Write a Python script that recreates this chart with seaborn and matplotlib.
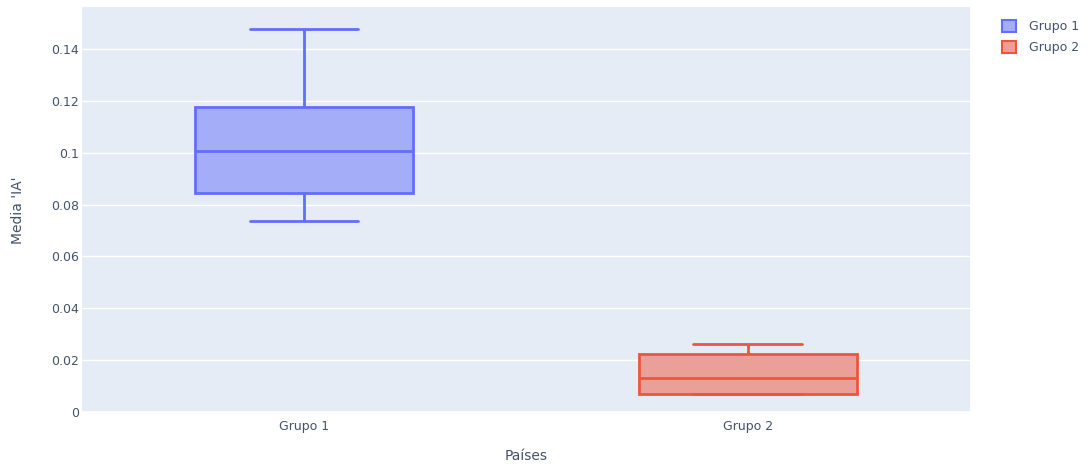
import matplotlib
matplotlib.use("Agg")
import matplotlib.pyplot as plt
import seaborn as sns
import pandas as pd
from matplotlib.patches import Patch

# medias de 'IA' por país en cada grupo
grupo_1 = [0.0738, 0.0846, 0.1008, 0.1177, 0.1477]
grupo_2 = [0.0069, 0.0069, 0.0131, 0.0223, 0.0262]
grupos = ["Grupo 1", "Grupo 2"]
lineas = ["#636EFA", "#EF553B"]
rellenos = ["#A4ADF8", "#EAA098"]

df = pd.DataFrame({
    "Grupo": ["Grupo 1"] * len(grupo_1) + ["Grupo 2"] * len(grupo_2),
    "Media": grupo_1 + grupo_2,
})

sns.set_theme(style="darkgrid", rc={
    "axes.facecolor": "#E5ECF6",
    "grid.color": "white",
    "grid.linewidth": 1.0,
})
plt.rcParams["font.family"] = ["DejaVu Sans"]
texto = "#45546b"

fig = plt.figure(figsize=(10.91, 4.65), dpi=100)
ax = fig.add_axes([0.0752, 0.111, 0.8137, 0.873])

for g, lc, fc in zip(grupos, lineas, rellenos):
    sns.boxplot(data=df[df["Grupo"] == g], x="Grupo", y="Media", order=grupos,
                color=fc, linecolor=lc, saturation=1, width=0.49, linewidth=2,
                whis=1.5, fliersize=0, ax=ax)

ax.set_xlim(-0.5, 1.5)
ax.set_ylim(-0.0005, 0.156)
ax.set_yticks([0, 0.02, 0.04, 0.06, 0.08, 0.1, 0.12, 0.14])
ax.set_yticklabels(["0", "0.02", "0.04", "0.06", "0.08", "0.1", "0.12", "0.14"])
ax.grid(axis="x", visible=False)
ax.axhline(0, color="white", linewidth=2, zorder=0.5)
for s in ax.spines.values():
    s.set_visible(False)
ax.tick_params(axis="both", length=0, labelsize=9, labelcolor=texto)
ax.tick_params(axis="y", pad=2)
ax.tick_params(axis="x", pad=5)
ax.set_xlabel("Países", fontsize=10, color=texto, labelpad=11)
ax.set_ylabel("Media 'IA'", fontsize=10, color=texto, labelpad=19)

handles = [Patch(facecolor=fc, edgecolor=lc, linewidth=1.5) for lc, fc in zip(lineas, rellenos)]
fig.legend(handles, grupos, loc="upper left", bbox_to_anchor=(0.908, 0.982),
           frameon=False, fontsize=9, labelcolor=texto,
           handlelength=1.1, handleheight=1.1, handletextpad=1.1, labelspacing=0.65)

plt.savefig("out.png", dpi=100)
plt.close()
